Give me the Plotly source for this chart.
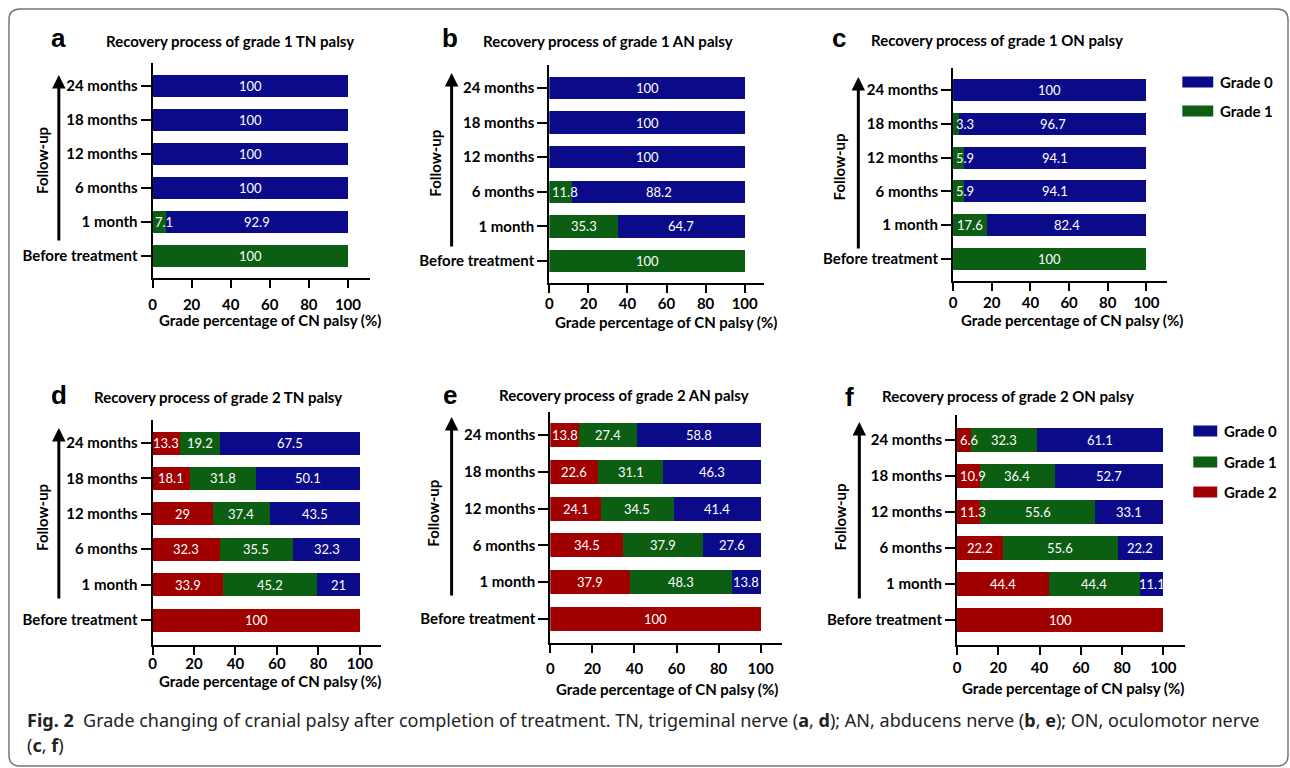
import plotly.graph_objects as go

# ---------------- data ----------------
categories = ["Before treatment", "1 month", "6 months", "12 months", "18 months", "24 months"]
series_names = ["Grade 0", "Grade 1", "Grade 2"]
x_ticks = [0, 20, 40, 60, 80, 100]

# panel a: grade 1 TN palsy
a_grade1 = [100, 7.1, 0, 0, 0, 0]
a_grade0 = [0, 92.9, 100, 100, 100, 100]
# panel b: grade 1 AN palsy
b_grade1 = [100, 35.3, 11.8, 0, 0, 0]
b_grade0 = [0, 64.7, 88.2, 100, 100, 100]
# panel c: grade 1 ON palsy
c_grade1 = [100, 17.6, 5.9, 5.9, 3.3, 0]
c_grade0 = [0, 82.4, 94.1, 94.1, 96.7, 100]
# panel d: grade 2 TN palsy
d_grade2 = [100, 33.9, 32.3, 29, 18.1, 13.3]
d_grade1 = [0, 45.2, 35.5, 27.5, 31.8, 19.2]      # drawn widths (12-month bar drawn ~27.5 wide)
d_grade1_text = ["", "45.2", "35.5", "37.4", "31.8", "19.2"]  # printed labels
d_grade0 = [0, 21, 32.3, 43.5, 50.1, 67.5]
# panel e: grade 2 AN palsy
e_grade2 = [100, 37.9, 34.5, 24.1, 22.6, 13.8]
e_grade1 = [0, 48.3, 37.9, 34.5, 31.1, 27.4]
e_grade0 = [0, 13.8, 27.6, 41.4, 46.3, 58.8]
# panel f: grade 2 ON palsy
f_grade2 = [100, 44.4, 22.2, 11.3, 10.9, 6.6]
f_grade1 = [0, 44.4, 55.6, 55.6, 36.4, 32.3]
f_grade0 = [0, 11.1, 22.2, 33.1, 52.7, 61.1]

titles = ["Recovery process of grade 1 TN palsy", "Recovery process of grade 1 AN palsy",
          "Recovery process of grade 1 ON palsy", "Recovery process of grade 2 TN palsy",
          "Recovery process of grade 2 AN palsy", "Recovery process of grade 2 ON palsy"]
letters = ["a", "b", "c", "d", "e", "f"]
x_title = "Grade percentage of CN palsy (%)"
y_title = "Follow-up"

# ---------------- styling / layout ----------------
W, H = 1290, 768
COL = {"Grade 0": "#0b0b8a", "Grade 1": "#0b5e12", "Grade 2": "#a00000"}
FONT = "Lato"

def px(x):
    return x / W

def py(y):
    return 1 - y / H

panel_series = [
    [("Grade 1", a_grade1, None), ("Grade 0", a_grade0, None)],
    [("Grade 1", b_grade1, None), ("Grade 0", b_grade0, None)],
    [("Grade 1", c_grade1, None), ("Grade 0", c_grade0, None)],
    [("Grade 2", d_grade2, None), ("Grade 1", d_grade1, d_grade1_text), ("Grade 0", d_grade0, None)],
    [("Grade 2", e_grade2, None), ("Grade 1", e_grade1, None), ("Grade 0", e_grade0, None)],
    [("Grade 2", f_grade2, None), ("Grade 1", f_grade1, None), ("Grade 0", f_grade0, None)],
]

# pixel geometry: x of 0, x of 100, x axis end, y centre of top bar, y centre of bottom bar, y axis top, x axis y
geom = [
    (149, 345, 367, 86, 256, 63, 278),
    (547, 743, 762, 88, 261, 65, 283),
    (952, 1146, 1167, 90, 259, 68, 281),
    (149, 357, 378, 443, 620, 420, 645),
    (548, 759, 780, 435, 619, 412, 643),
    (956, 1163, 1185, 440, 620, 415, 645),
]
tick_standoff = [4, -2, -1, -4, 3, 0]
letter_pos = [(55, 38), (447, 38), (838, 38), (55, 395), (447, 395), (848, 397)]
title_pos = [(227, 41), (606, 41), (996, 40), (215, 397), (622, 395), (1007, 396)]
xtitle_pos = [(267, 320), (664, 322), (1071, 320), (267, 681), (665, 689), (1072, 688)]
arrow_pos = [(55, 75, 242), (449, 73, 248), (857, 77, 250), (55, 428, 600), (449, 417, 597), (858, 422, 600)]
ytitle_pos = [(38, 160), (432, 163), (838, 167), (38, 517), (430, 513), (839, 517)]

fig = go.Figure()
annotations = []
shapes = []

for i in range(6):
    n = "" if i == 0 else str(i + 1)
    xa, ya = "x" + n, "y" + n
    x0, x100, xend, yct, ycb, ytop, ybot = geom[i]
    xmax = 100 * (xend - x0) / (x100 - x0)
    s = (ycb - yct) / 5
    yr = [-(ybot - ycb) / s, 5 + (yct - ytop) / s]

    cum = [0.0] * len(categories)
    for name, vals, texts in panel_series[i]:
        fig.add_trace(go.Bar(
            y=categories, x=[v if v else None for v in vals], base=cum[:],
            orientation="h", name=name, marker=dict(color=COL[name], line=dict(width=0)),
            width=0.65, xaxis=xa, yaxis=ya, showlegend=False, hoverinfo="x+y+name"))
        for k, v in enumerate(vals):
            if v:
                lbl = texts[k] if texts else f"{v:g}"
                if cum[k] == 0 and v < 12:
                    annotations.append(dict(x=0.3, y=categories[k], xref=xa, yref=ya, text=lbl,
                                            showarrow=False, xanchor="left", yanchor="middle",
                                            font=dict(family=FONT, size=13, color="white")))
                else:
                    annotations.append(dict(x=cum[k] + v / 2, y=categories[k], xref=xa, yref=ya, text=lbl,
                                            showarrow=False, xanchor="center", yanchor="middle",
                                            font=dict(family=FONT, size=13, color="white")))
                cum[k] += v

    fig.update_layout(**{
        ("xaxis" + n): dict(domain=[px(x0), px(xend)], range=[0, xmax], anchor=ya,
                            tickvals=x_ticks, ticks="outside", ticklen=8, tickwidth=2, tickcolor="black",
                            showline=True, linewidth=2, linecolor="black", showgrid=False, zeroline=False,
                            ticklabelstandoff=tick_standoff[i],
                            tickfont=dict(family=FONT, size=15, color="black", weight="bold")),
        ("yaxis" + n): dict(domain=[py(ybot), py(ytop)], range=yr, anchor=xa, type="category",
                            categoryorder="array", categoryarray=categories,
                            ticks="outside", ticklen=10, tickwidth=2, tickcolor="black",
                            showline=True, linewidth=2, linecolor="black", showgrid=False, zeroline=False,
                            tickfont=dict(family=FONT, size=15, color="black", weight="bold")),
    })

    # panel letter & title
    lx, ly = letter_pos[i]
    annotations.append(dict(x=px(lx), y=py(ly), xref="paper", yref="paper", text="<b>" + letters[i] + "</b>",
                            showarrow=False, xanchor="center", yanchor="middle",
                            font=dict(family="Liberation Sans", size=26, color="black")))
    tx, ty = title_pos[i]
    annotations.append(dict(x=px(tx), y=py(ty), xref="paper", yref="paper", text="<b>" + titles[i] + "</b>",
                            showarrow=False, xanchor="center", yanchor="middle",
                            font=dict(family=FONT, size=15, color="black")))
    xx, xy = xtitle_pos[i]
    annotations.append(dict(x=px(xx), y=py(xy), xref="paper", yref="paper", text="<b>" + x_title + "</b>",
                            showarrow=False, xanchor="center", yanchor="middle",
                            font=dict(family=FONT, size=15, color="black")))
    # follow-up arrow
    ax_, ay0, ay1 = arrow_pos[i]
    annotations.append(dict(x=px(ax_), y=py(ay0), xref="paper", yref="paper", text="",
                            showarrow=True, ax=0, ay=ay1 - ay0, arrowhead=2, arrowsize=0.9,
                            arrowwidth=3, arrowcolor="black", standoff=0))
    yx, yy = ytitle_pos[i]
    annotations.append(dict(x=px(yx), y=py(yy), xref="paper", yref="paper", text="<b>" + y_title + "</b>",
                            showarrow=False, xanchor="center", yanchor="middle", textangle=-90,
                            font=dict(family=FONT, size=15, color="black")))

# legends (custom, positioned)
legend_sets = [
    (1182, 1213, [82, 111], ["Grade 0", "Grade 1"]),
    (1193, 1217, [431, 462, 492], ["Grade 0", "Grade 1", "Grade 2"]),
]
for lx0, lx1, ys, names in legend_sets:
    for yc, name in zip(ys, names):
        shapes.append(dict(type="rect", xref="paper", yref="paper", x0=px(lx0), x1=px(lx1),
                           y0=py(yc + 5.5), y1=py(yc - 5.5), fillcolor=COL[name], line=dict(width=0)))
        annotations.append(dict(x=px(lx1 + 5), y=py(yc), xref="paper", yref="paper", text="<b>" + name + "</b>",
                                showarrow=False, xanchor="left", yanchor="middle",
                                font=dict(family=FONT, size=15, color="black")))

# caption
annotations.append(dict(x=px(21), y=py(720), xref="paper", yref="paper",
                        text="<b>Fig. 2</b>&nbsp;&nbsp;Grade changing of cranial palsy after completion of treatment. "
                             "TN, trigeminal nerve (<b>a</b>, <b>d</b>); AN, abducens nerve (<b>b</b>, <b>e</b>); "
                             "ON, oculomotor nerve",
                        showarrow=False, xanchor="left", yanchor="middle",
                        font=dict(family="Noto Sans", size=18, color="#222222")))
annotations.append(dict(x=px(21), y=py(745), xref="paper", yref="paper",
                        text="(<b>c</b>, <b>f</b>)",
                        showarrow=False, xanchor="left", yanchor="middle",
                        font=dict(family="Noto Sans", size=18, color="#222222")))

# rounded border
bx0, by0, bx1, by1, r = 5, 9, 1288, 766, 11
path = (f"M {px(bx0 + r)},{py(by0)} L {px(bx1 - r)},{py(by0)} Q {px(bx1)},{py(by0)} {px(bx1)},{py(by0 + r)} "
        f"L {px(bx1)},{py(by1 - r)} Q {px(bx1)},{py(by1)} {px(bx1 - r)},{py(by1)} "
        f"L {px(bx0 + r)},{py(by1)} Q {px(bx0)},{py(by1)} {px(bx0)},{py(by1 - r)} "
        f"L {px(bx0)},{py(by0 + r)} Q {px(bx0)},{py(by0)} {px(bx0 + r)},{py(by0)} Z")
shapes.append(dict(type="path", xref="paper", yref="paper", path=path, line=dict(color="#777777", width=1.5)))

fig.update_layout(
    width=W, height=H, margin=dict(l=0, r=0, t=0, b=0),
    paper_bgcolor="white", plot_bgcolor="white",
    barmode="stack", showlegend=False,
    annotations=annotations, shapes=shapes,
    font=dict(family=FONT, color="black"),
)

fig.write_html("out.html", config={"displayModeBar": False},
               post_script="document.body.style.margin='0';document.body.style.overflow='hidden';")
